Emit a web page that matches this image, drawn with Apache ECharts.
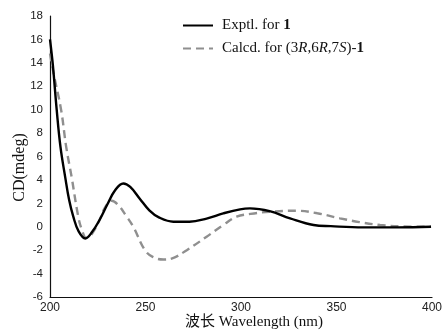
<!DOCTYPE html>
<html>
<head>
<meta charset="utf-8">
<script src="https://cdn.jsdelivr.net/npm/echarts@6/dist/echarts.min.js"></script>
<style>
  html, body { margin: 0; padding: 0; background: #fff; }
  #chart { width: 443px; height: 330px; }
</style>
</head>
<body>
<div id="chart"></div>
<script>
// wavelength (nm) and CD (mdeg)
const exptWl = [200, 201.5, 203.5, 205.5, 208, 210, 212.2, 215, 218.5, 222, 226, 230, 234, 238.4, 242, 247, 252, 257, 264.6, 273, 282, 290.7, 299.5, 304.7, 315, 325.7, 338, 347, 364, 382, 399.5]
const exptCd = [16.0, 13.8, 10.0, 6.8, 4.2, 2.3, 0.86, -0.4, -1.0, -0.45, 0.6, 1.9, 3.1, 3.7, 3.4, 2.4, 1.4, 0.8, 0.43, 0.43, 0.7, 1.14, 1.49, 1.57, 1.34, 0.72, 0.15, 0.05, -0.05, -0.05, 0]

const calcWl = [200, 202, 205.8, 208.5, 211.3, 214.8, 216.8, 219, 222, 226, 229, 232.3, 236, 240, 243.6, 249.7, 254, 259.3, 264, 271.6, 282, 290.7, 297.7, 305, 315, 329, 340, 351.8, 362, 372.8, 385, 399.5]
const calcCd = [14.8, 13.0, 10.0, 6.8, 4.27, 0.86, -0.3, -0.95, -0.6, 0.6, 1.7, 2.22, 1.8, 0.9, 0.0, -2.0, -2.6, -2.8, -2.7, -2.0, -0.85, 0.15, 0.86, 1.1, 1.28, 1.37, 1.15, 0.72, 0.4, 0.15, 0.03, 0]

const xTicks = { min: 200, max: 400, interval: 50 }
const yTicks = { min: -6, max: 18, interval: 2 }

const pairs = (xs, ys) => xs.map((x, i) => [x, ys[i]])

const chart = echarts.init(document.getElementById('chart'))
chart.setOption({
  animation: false,
  grid: { left: 50, right: 11, top: 16, bottom: 33, outerBoundsMode: 'none' },
  legend: {
    orient: 'vertical',
    left: 177,
    top: 13,
    itemWidth: 30,
    itemHeight: 14,
    itemGap: 8,
    itemStyle: { opacity: 0 },
    textStyle: {
      fontFamily: 'Liberation Serif',
      fontSize: 15,
      color: '#111',
      padding: [0, 0, 0, 4],
      rich: {
        b: { fontFamily: 'Liberation Serif', fontSize: 15, fontWeight: 'bold', color: '#111' },
        i: { fontFamily: 'Liberation Serif', fontSize: 15, fontStyle: 'italic', color: '#111' }
      }
    },
    formatter: name => name === 'expt'
      ? 'Exptl. for {b|1}'
      : 'Calcd. for (3{i|R},6{i|R},7{i|S})-{b|1}',
    data: ['expt', 'calc']
  },
  xAxis: {
    type: 'value',
    min: xTicks.min, max: xTicks.max, interval: xTicks.interval,
    name: '波长 Wavelength (nm)',
    nameLocation: 'middle',
    nameGap: 18,
    nameMoveOverlap: false,
    nameTextStyle: { fontFamily: 'Liberation Serif, Noto Sans CJK SC', fontSize: 15, color: '#111', padding: [0, 0, 0, 26] },
    axisLine: { onZero: false, lineStyle: { color: '#111', width: 1.2 } },
    axisTick: { show: false },
    axisLabel: { fontFamily: 'Liberation Sans', fontSize: 12, color: '#222', margin: 5 },
    splitLine: { show: false }
  },
  yAxis: {
    type: 'value',
    min: yTicks.min, max: yTicks.max, interval: yTicks.interval,
    name: 'CD(mdeg)',
    nameLocation: 'middle',
    nameGap: 22,
    nameMoveOverlap: false,
    nameTextStyle: { fontFamily: 'Liberation Serif', fontSize: 16, color: '#111', padding: [0, 22, 0, 0] },
    axisLine: { show: true, onZero: false, lineStyle: { color: '#111', width: 1.2 } },
    axisTick: { show: false },
    axisLabel: { fontFamily: 'Liberation Sans', fontSize: 11.5, color: '#222', margin: 7 },
    splitLine: { show: false }
  },
  series: [
    {
      name: 'expt',
      type: 'line',
      data: pairs(exptWl, exptCd),
      smooth: 0.4,
      symbol: 'none',
      lineStyle: { color: '#000', width: 2.4 },
      itemStyle: { color: '#000' },
      z: 3
    },
    {
      name: 'calc',
      type: 'line',
      data: pairs(calcWl, calcCd),
      smooth: 0.4,
      symbol: 'none',
      lineStyle: { color: '#8f8f8f', width: 2.4, type: [8, 5] },
      itemStyle: { color: '#8f8f8f' },
      z: 2
    }
  ]
})
</script>
</body>
</html>
